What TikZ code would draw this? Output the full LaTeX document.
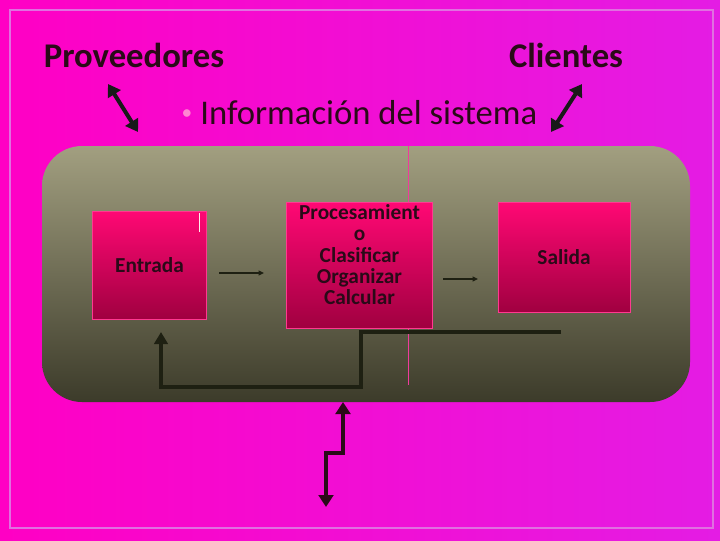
\documentclass[tikz,border=0pt]{standalone}
\usepackage{fontspec}
\setmainfont{Carlito}
\usetikzlibrary{arrows.meta}
\definecolor{bgL}{HTML}{FF00C4}
\definecolor{bgR}{HTML}{E41CE4}
\definecolor{frameC}{HTML}{E070E0}
\definecolor{panelT}{HTML}{A29F80}
\definecolor{panelB}{HTML}{3C3B2A}
\definecolor{boxT}{HTML}{FF0874}
\definecolor{boxB}{HTML}{A00040}
\definecolor{inkC}{HTML}{2A0A18}
\definecolor{lineC}{HTML}{1E2012}
\tikzset{
  procbox/.style={draw=boxT!80!white, line width=0.6pt, top color=boxT, bottom color=boxB, inner sep=0pt},
  boxlabel/.style={text=inkC, font=\bfseries\fontsize{16}{16}\selectfont, align=center, inner sep=0pt},
  bigtitle/.style={text=inkC, font=\bfseries\fontsize{26}{30}\selectfont, inner sep=0pt},
  dblarrow/.style={line width=3pt, draw=black!90, {Triangle[length=9pt,width=11pt]}-{Triangle[length=9pt,width=11pt]}},
  thinarrow/.style={line width=1pt, draw=lineC, -{Triangle[length=4pt,width=3.5pt]}},
  fbline/.style={line width=3pt, draw=lineC}
}
\begin{document}
\begin{tikzpicture}[x=0.75pt,y=-0.75pt]
\useasboundingbox (0,0) rectangle (720,540);
\shade[left color=bgL, right color=bgR] (0,0) rectangle (720,540);
\draw[frameC, line width=1.5pt] (10,10) -- (713,10) -- (713,528) -- (10,528) -- cycle;
% titles
\node[bigtitle] (prov) at (134,55) {Proveedores};
\node[bigtitle] (cli) at (566,55) {Clientes};
\node[text=pink!70!magenta, font=\fontsize{16}{16}\selectfont, inner sep=0pt] (bul) at (187,115) {•};
\node[text=inkC, font=\fontsize{26}{30}\selectfont, inner sep=0pt, anchor=west] (info) at (200,113) {Información del sistema};
\coordinate (pa) at (108,84);
\coordinate (pb) at (138,132);
\coordinate (ca) at (582,84);
\coordinate (cb) at (551,132);
\draw[dblarrow] (pa) -- (pb);
\draw[dblarrow] (ca) -- (cb);
% panel
\shade[top color=panelT, bottom color=panelB, rounded corners=30pt] (42,146) rectangle (690,402);
\draw[magenta!70!pink, line width=0.6pt] (408,146) -- (408,385);
% boxes
\node[procbox, minimum width=85pt, minimum height=81pt] (ent) at (149.5,265) {};
\node[boxlabel] (entt) at (ent.center) {Entrada};
\draw[white!70!pink, line width=0.5pt] (199,213) -- (199,232);
\node[procbox, minimum width=110pt, minimum height=94pt] (proc) at (359.5,265.5) {};
\node[boxlabel] (proct) at ([yshift=8pt]proc.center) {Procesamient\\o\\Clasificar\\Organizar\\Calcular};
\node[procbox, minimum width=99pt, minimum height=82pt] (sal) at (564,257.5) {};
\node[boxlabel] (salt) at (sal.center) {Salida};
% thin arrows
\coordinate (a1) at (219,273);
\coordinate (a2) at (264,273);
\coordinate (b1) at (443,279);
\coordinate (b2) at (478,279);
\draw[thinarrow] (a1) -- (a2);
\draw[thinarrow] (b1) -- (b2);
% feedback
\coordinate (f0) at (561,332);
\coordinate (f1) at (361,332);
\coordinate (f2) at (361,387);
\coordinate (f3) at (161,387);
\coordinate (f4) at (161,332);
\draw[fbline, line join=miter, -{Triangle[length=9pt,width=10pt]}] (f0) -- (f1) -- (f2) -- (f3) -- (f4);
% bottom arrow
\coordinate (g0) at (326,507);
\coordinate (g1) at (326,453);
\coordinate (g2) at (343,453);
\coordinate (g3) at (343,402);
\draw[line width=3pt, draw=inkC, {Triangle[length=9pt,width=11pt]}-{Triangle[length=9pt,width=11pt]}] (g0) -- (g1) -- (g2) -- (g3);
\end{tikzpicture}
\end{document}
